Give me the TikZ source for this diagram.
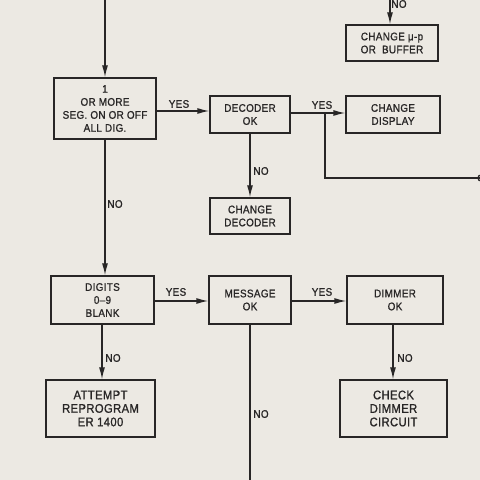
\documentclass[tikz,border=0pt]{standalone}
\usepackage{fontspec}
\setmainfont{Liberation Sans}[FakeStretch=0.9,FakeBold=1,LetterSpace=3]
\usetikzlibrary{arrows.meta}
\definecolor{paper}{RGB}{236,233,227}
\definecolor{ink}{RGB}{40,38,38}
\begin{document}
\begin{tikzpicture}[x=1pt,y=1pt,
  box/.style={draw=ink,line width=1.3pt,align=center,inner sep=0pt,text=ink,
    font=\fontsize{11}{13}\selectfont},
  bigbox/.style={box,font=\fontsize{12.5}{13.5}\selectfont},
  conn/.style={draw=ink,line width=1.3pt},
  arr/.style={conn,-{Latex[length=12pt,width=6pt]}},
  lbl/.style={text=ink,font=\fontsize{11}{12}\selectfont,inner sep=0pt}]
\fill[paper] (0,0) rectangle (480,480);
\useasboundingbox (0,0) rectangle (480,480);
% boxes
\node[box,minimum width=102,minimum height=61] (b1) at (105,371.5) {1\\OR MORE\\SEG. ON OR OFF\\ALL DIG.};
\node[box,minimum width=80,minimum height=37] (dec) at (250,365.5) {DECODER\\OK};
\node[box,minimum width=94,minimum height=37] (disp) at (393,365.5) {CHANGE\\DISPLAY};
\node[box,minimum width=92,minimum height=36] (mup) at (392,437) {CHANGE μ-p\\OR\ \ BUFFER};
\node[box,minimum width=80,minimum height=36] (chdec) at (250,264) {CHANGE\\DECODER};
\node[box,minimum width=103,minimum height=48] (dig) at (102.5,180) {DIGITS\\0–9\\BLANK};
\node[box,minimum width=82,minimum height=48] (msg) at (250,180) {MESSAGE\\OK};
\node[box,minimum width=96,minimum height=48] (dim) at (395,180) {DIMMER\\OK};
\node[bigbox,minimum width=109,minimum height=57] (att) at (100.5,71.5) {ATTEMPT\\REPROGRAM\\ER 1400};
\node[bigbox,minimum width=107,minimum height=57] (chk) at (393.5,71.5) {CHECK\\DIMMER\\CIRCUIT};
% free ends
\coordinate (top1) at (105,482);
\coordinate (top2) at (390,482);
\coordinate (br) at (325,367);
\coordinate (bc) at (325,302);
\coordinate (re) at (481,302);
\coordinate (bot) at (250,-2);
% connectors
\draw[arr] (top1) -- (b1.north);
\draw[arr] (top2) -- (top2 |- mup.north);
\draw[arr] (b1.east |- 0,369) -- (dec.west |- 0,369);
\draw[arr] (dec.east |- 0,367) -- (disp.west |- 0,367);
\draw[conn] (br) -- (bc) -- (re);
\draw[ink,line width=1.3pt] (re) circle (3);
\draw[arr] (dec.south) -- (chdec.north);
\draw[arr] (b1.south) -- (b1.south |- dig.north);
\draw[arr] (dig.east |- 0,179) -- (msg.west |- 0,179);
\draw[arr] (msg.east |- 0,179) -- (dim.west |- 0,179);
\draw[arr] (dig.south -| 102,0) -- (att.north -| 102,0);
\draw[arr] (dim.south -| 393,0) -- (chk.north -| 393,0);
\draw[conn] (msg.south) -- (bot);
% labels
\node[lbl] (l1) at (179,376) {YES};
\node[lbl] (l2) at (322,375) {YES};
\node[lbl] (l3) at (176,188) {YES};
\node[lbl] (l4) at (322,188) {YES};
\node[lbl] (n1) at (399,476) {NO};
\node[lbl] (n2) at (261,309) {NO};
\node[lbl] (n3) at (115,276) {NO};
\node[lbl] (n4) at (113,122) {NO};
\node[lbl] (n5) at (405,122) {NO};
\node[lbl] (n6) at (261,66) {NO};
\end{tikzpicture}
\end{document}
